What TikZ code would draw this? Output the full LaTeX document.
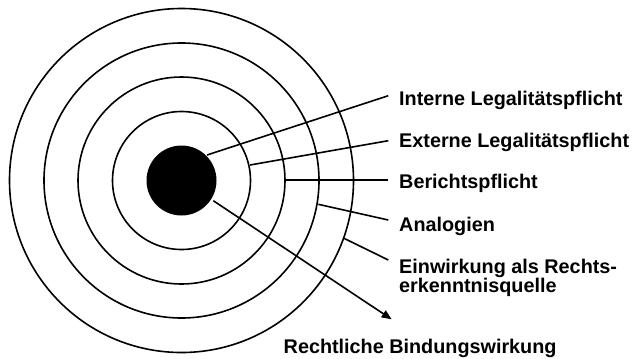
\documentclass[tikz,border=0pt]{standalone}
\usepackage{fontspec}
\setmainfont{Liberation Sans}
\usetikzlibrary{arrows.meta}
\begin{document}
\begin{tikzpicture}[x=1bp,y=-1bp,
  ring/.style={draw=black,line width=1.6bp},
  conn/.style={draw=black,line width=1.6bp},
  lbl/.style={anchor=base west,inner sep=0pt,font=\bfseries\fontsize{19.8bp}{19bp}\selectfont,align=left}]
\useasboundingbox (0,0) rectangle (633,358);
\coordinate (C) at (181.5,180.5);
% rings
\fill[black] (C) circle[radius=35];
\draw[ring] (C) circle[radius=69];
\draw[ring] (C) circle[radius=103.5];
\draw[ring] (C) circle[radius=137.5];
\draw[ring] (C) circle[radius=172];
% labels
\node[lbl] (l1) at (399,105) {Interne Legalitätspflicht};
\node[lbl] (l2) at (399,147.5) {Externe Legalitätspflicht};
\node[lbl] (l3) at (399,188.5) {Berichtspflicht};
\node[lbl] (l4) at (399,231) {Analogien};
\node[lbl] (l5) at (399,292.3) {Einwirkung als Rechts-\\erkenntnisquelle};
\node[lbl] (l6) at (283.5,353.3) {Rechtliche Bindungswirkung};
% connector end points
\coordinate (s1) at (207,155);
\coordinate (e1) at (388.3,95.7);
\coordinate (s2) at (250,165);
\coordinate (e2) at (388.3,140.7);
\coordinate (s3) at (285,180);
\coordinate (e3) at (388.3,180);
\coordinate (s4) at (318.3,204.3);
\coordinate (e4) at (388.3,220);
\coordinate (s5) at (344,238.3);
\coordinate (e5) at (388.3,260);
\coordinate (s6) at (213.3,200.7);
\coordinate (e6) at (391.7,319.3);
\draw[conn] (s1) -- (e1);
\draw[conn] (s2) -- (e2);
\draw[conn] (s3) -- (e3);
\draw[conn] (s4) -- (e4);
\draw[conn] (s5) -- (e5);
\draw[conn,-{Triangle[length=10bp,width=8bp]}] (s6) -- (e6);
\end{tikzpicture}
\end{document}
